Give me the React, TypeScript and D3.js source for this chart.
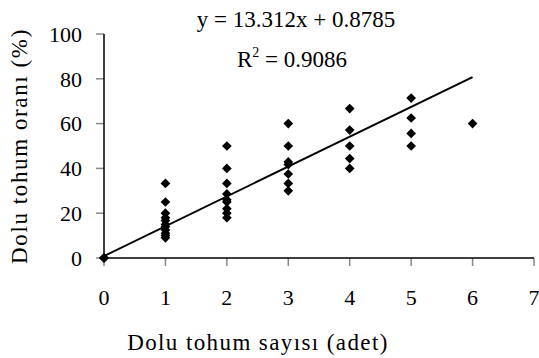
import React from "react";
import * as d3 from "d3";

const xTicks = [0, 1, 2, 3, 4, 5, 6, 7];
const yTicks = [0, 20, 40, 60, 80, 100];
const pointX = [0, 0, 0,
  1, 1, 1, 1, 1, 1, 1, 1, 1, 1, 1,
  2, 2, 2, 2, 2, 2, 2, 2, 2,
  3, 3, 3, 3, 3, 3, 3,
  4, 4, 4, 4, 4,
  5, 5, 5, 5,
  6];
const pointY = [0, 0, 0,
  33.3, 25, 20, 18, 16.7, 15, 14, 12.5, 11, 10, 9,
  50, 40, 33.3, 28.6, 26, 25, 22, 20, 18,
  60, 50, 42.9, 41.7, 37.5, 33.3, 30,
  66.7, 57.1, 50, 44.4, 40,
  71.4, 62.5, 55.6, 50,
  60];
const slope = 13.312;
const intercept = 0.8785;
const lineX = [0, 6];

export default function App() {
  const W = 539, H = 358;
  const x = d3.scaleLinear().domain([0, 7]).range([104, 534]);
  const y = d3.scaleLinear().domain([0, 100]).range([258, 34]);
  const diamond = d3.symbol().type(d3.symbolDiamond2).size(60)();
  const fit = d3.line<number>().x(d => x(d)).y(d => y(slope * d + intercept));
  const ts = { fontFamily: "'Liberation Serif', 'DejaVu Serif', serif" };
  return (
    <svg width={W} height={H} style={{ position: "absolute", left: 0, top: 0, background: "#fff", fontFamily: "'Liberation Serif', serif" }}>
      <rect width={W} height={H} fill="#fff" />
      {yTicks.map(t => (
        <g key={"y" + t}>
          <line x1={96} x2={104} y1={y(t)} y2={y(t)} stroke="#888" strokeWidth={1.5} />
          <text x={82} y={y(t)} dy="0.35em" textAnchor="end" fontSize={22} style={ts}>{t}</text>
        </g>
      ))}
      {xTicks.map(t => (
        <g key={"x" + t}>
          <line x1={x(t)} x2={x(t)} y1={258} y2={266} stroke="#888" strokeWidth={1.5} />
          <text x={x(t)} y={305} textAnchor="middle" fontSize={22} style={ts}>{t}</text>
        </g>
      ))}
      <line x1={104} x2={104} y1={34} y2={258} stroke="#000" strokeWidth={1.5} />
      <line x1={104} x2={534} y1={258} y2={258} stroke="#000" strokeWidth={1.5} />
      {pointX.map((px, i) => (
        <path key={i} d={diamond} transform={`translate(${x(px)},${y(pointY[i])})`} fill="#000" />
      ))}
      <path d={fit(lineX) || ""} fill="none" stroke="#000" strokeWidth={2} />
      <text x={296} y={27} textAnchor="middle" fontSize={23} style={ts}>y = 13.312x + 0.8785</text>
      <text x={292} y={67} textAnchor="middle" fontSize={23} style={ts}>R<tspan dy={-10} fontSize={14}>2</tspan><tspan dy={10}> = 0.9086</tspan></text>
      <text x={258} y={350} textAnchor="middle" fontSize={23} letterSpacing={1.4} style={ts}>Dolu tohum sayısı (adet)</text>
      <text transform={`translate(27,146) rotate(-90)`} textAnchor="middle" fontSize={23} letterSpacing={1.6} style={ts}>Dolu tohum oranı (%)</text>
    </svg>
  );
}
